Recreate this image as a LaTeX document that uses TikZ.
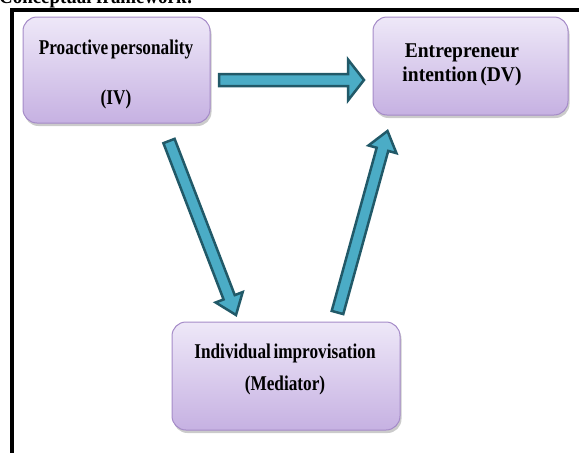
\documentclass[tikz,border=0pt]{standalone}
\usepackage{fontspec}
\setmainfont{Liberation Serif}
\newfontfamily\boxfont{Liberation Serif}[FakeStretch=0.82,WordSpace=0.6]
\newfontfamily\boxfontw{Liberation Serif}[FakeStretch=0.93,WordSpace=0.6]
\newfontfamily\titlefont{Liberation Serif}[FakeStretch=0.9]
\usetikzlibrary{calc,shadows}
\definecolor{boxtop}{HTML}{EEE8F8}
\definecolor{boxbot}{HTML}{C6B1E2}
\definecolor{boxline}{HTML}{A58BC8}
\definecolor{arrfill}{HTML}{4BACC6}
\definecolor{arrline}{HTML}{215968}
\tikzset{
  box/.style={draw=boxline, line width=1pt, rounded corners=14pt,
    top color=boxtop, bottom color=boxbot, inner sep=0pt,
    drop shadow={shadow xshift=1.5pt, shadow yshift=-3pt, fill=black!45, opacity=0.45}},
  lbl/.style={font=\boxfont\bfseries\fontsize{21}{24}\selectfont, inner sep=0pt, anchor=base},
  lblw/.style={font=\boxfontw\bfseries\fontsize{21}{24}\selectfont, inner sep=0pt, anchor=base},
  blockarrow/.style={fill=arrfill, draw=arrline, line width=2.5pt, line join=miter},
  frameline/.style={line width=4pt, black}
}
% #1 start, #2 end, #3 shaft half width, #4 head half width, #5 head length
\newcommand\blockarr[5]{%
  \coordinate (#1-#2-hb) at ($(#2)!#5!(#1)$);
  \path[blockarrow] ($(#1)!#3!90:(#2)$) -- ($(#1-#2-hb)!#3!-90:(#1)$)
    -- ($(#1-#2-hb)!#4!-90:(#1)$) -- (#2)
    -- ($(#1-#2-hb)!#4!90:(#1)$) -- ($(#1-#2-hb)!#3!90:(#1)$)
    -- ($(#1)!#3!-90:(#2)$) -- cycle;
}
\begin{document}
\begin{tikzpicture}[x=1pt,y=-1pt]
\useasboundingbox (0,0) rectangle (579,453);
% title (cut off at top)
\node[font=\titlefont\bfseries\fontsize{21}{24}\selectfont, inner sep=0pt, anchor=base west] (title) at (-1,3) {Conceptual framework:};
% frame
\draw[frameline] (12,453) -- (12,9.5) -- (579,9.5);
% boxes
\node[box, minimum width=187pt, minimum height=106pt] (pp) at (116.5,70) {};
\node[box, minimum width=195pt, minimum height=98pt] (ei) at (470.5,66) {};
\node[box, minimum width=228pt, minimum height=108pt] (ii) at (286,376) {};
% texts
\node[lbl] (pp1) at (116,54) {Proactive personality};
\node[lbl] (pp2) at (116,104) {(IV)};
\node[lblw] (ei1) at (462,57) {Entrepreneur};
\node[lblw] (ei2) at (462,81) {intention (DV)};
\node[lbl] (ii1) at (285,358) {Individual improvisation};
\node[lbl] (ii2) at (285,390) {(Mediator)};
% arrow end points
\coordinate (h1) at (219,80);
\coordinate (h2) at (364,80);
\coordinate (d1) at (169,141);
\coordinate (d2) at (236,315);
\coordinate (u1) at (337.5,312.5);
\coordinate (u2) at (387.5,131);
\blockarr{h1}{h2}{6pt}{20.5pt}{16pt}
\blockarr{d1}{d2}{6pt}{14.5pt}{19pt}
\blockarr{u1}{u2}{6pt}{14.5pt}{19pt}
\end{tikzpicture}
\end{document}
